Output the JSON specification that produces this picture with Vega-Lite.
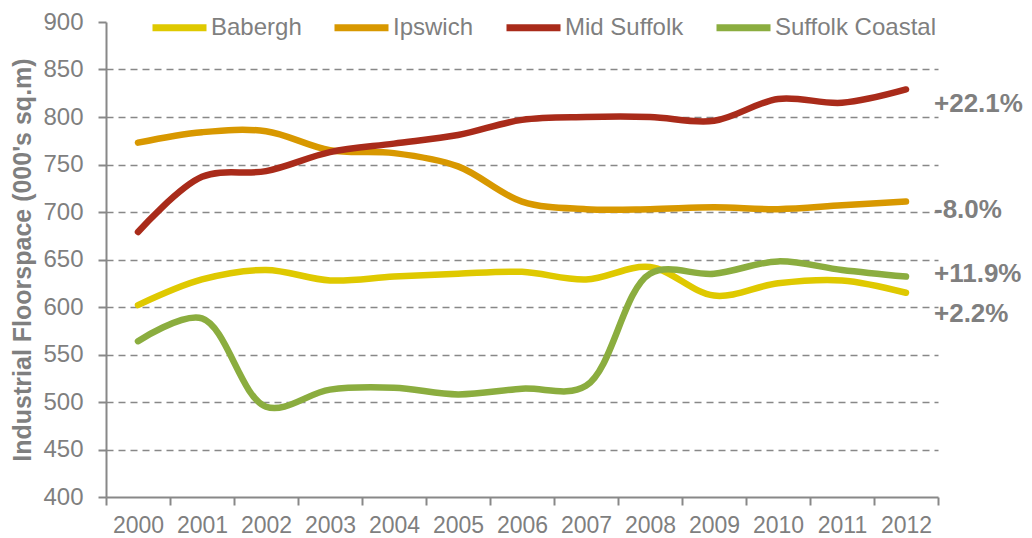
{
  "$schema": "https://vega.github.io/schema/vega-lite/v6.json",
  "width": 832,
  "height": 475,
  "autosize": {"type": "none"},
  "padding": {"left": 106, "top": 22, "right": 94, "bottom": 41},
  "background": "white",
  "config": {"view": {"stroke": null}, "font": "Liberation Sans"},
  "datasets": {
    "series": [
      {"series": "Babergh", "year": "2000", "value": 602},
      {"series": "Babergh", "year": "2001", "value": 629},
      {"series": "Babergh", "year": "2002", "value": 639},
      {"series": "Babergh", "year": "2003", "value": 628},
      {"series": "Babergh", "year": "2004", "value": 632},
      {"series": "Babergh", "year": "2005", "value": 635},
      {"series": "Babergh", "year": "2006", "value": 637},
      {"series": "Babergh", "year": "2007", "value": 629},
      {"series": "Babergh", "year": "2008", "value": 642},
      {"series": "Babergh", "year": "2009", "value": 612},
      {"series": "Babergh", "year": "2010", "value": 625},
      {"series": "Babergh", "year": "2011", "value": 628},
      {"series": "Babergh", "year": "2012", "value": 615},
      {"series": "Ipswich", "year": "2000", "value": 773},
      {"series": "Ipswich", "year": "2001", "value": 784},
      {"series": "Ipswich", "year": "2002", "value": 785},
      {"series": "Ipswich", "year": "2003", "value": 765},
      {"series": "Ipswich", "year": "2004", "value": 762},
      {"series": "Ipswich", "year": "2005", "value": 748},
      {"series": "Ipswich", "year": "2006", "value": 711},
      {"series": "Ipswich", "year": "2007", "value": 703},
      {"series": "Ipswich", "year": "2008", "value": 703},
      {"series": "Ipswich", "year": "2009", "value": 705},
      {"series": "Ipswich", "year": "2010", "value": 703},
      {"series": "Ipswich", "year": "2011", "value": 707},
      {"series": "Ipswich", "year": "2012", "value": 711},
      {"series": "Mid Suffolk", "year": "2000", "value": 679},
      {"series": "Mid Suffolk", "year": "2001", "value": 737},
      {"series": "Mid Suffolk", "year": "2002", "value": 743},
      {"series": "Mid Suffolk", "year": "2003", "value": 763},
      {"series": "Mid Suffolk", "year": "2004", "value": 772},
      {"series": "Mid Suffolk", "year": "2005", "value": 781},
      {"series": "Mid Suffolk", "year": "2006", "value": 797},
      {"series": "Mid Suffolk", "year": "2007", "value": 800},
      {"series": "Mid Suffolk", "year": "2008", "value": 800},
      {"series": "Mid Suffolk", "year": "2009", "value": 796},
      {"series": "Mid Suffolk", "year": "2010", "value": 819},
      {"series": "Mid Suffolk", "year": "2011", "value": 815},
      {"series": "Mid Suffolk", "year": "2012", "value": 829},
      {"series": "Suffolk Coastal", "year": "2000", "value": 564},
      {"series": "Suffolk Coastal", "year": "2001", "value": 588},
      {"series": "Suffolk Coastal", "year": "2002", "value": 495},
      {"series": "Suffolk Coastal", "year": "2003", "value": 513},
      {"series": "Suffolk Coastal", "year": "2004", "value": 515},
      {"series": "Suffolk Coastal", "year": "2005", "value": 508},
      {"series": "Suffolk Coastal", "year": "2006", "value": 514},
      {"series": "Suffolk Coastal", "year": "2007", "value": 517},
      {"series": "Suffolk Coastal", "year": "2008", "value": 635},
      {"series": "Suffolk Coastal", "year": "2009", "value": 635},
      {"series": "Suffolk Coastal", "year": "2010", "value": 648},
      {"series": "Suffolk Coastal", "year": "2011", "value": 639},
      {"series": "Suffolk Coastal", "year": "2012", "value": 632}
    ],
    "labels": [
      {"series": "Mid Suffolk", "year": "2012", "value": 814, "label": "+22.1%"},
      {"series": "Ipswich", "year": "2012", "value": 702, "label": "-8.0%"},
      {"series": "Suffolk Coastal", "year": "2012", "value": 635, "label": "+11.9%"},
      {"series": "Babergh", "year": "2012", "value": 593, "label": "+2.2%"}
    ]
  },
  "layer": [
    {
      "data": {"name": "series"},
      "mark": {"type": "line", "interpolate": "catmull-rom", "strokeWidth": 6.5, "strokeCap": "round"},
      "encoding": {
        "x": {
          "field": "year", "type": "ordinal", "bandPosition": 0.5,
          "scale": {"type": "band", "paddingInner": 0, "paddingOuter": 0},
          "axis": {
            "title": null, "labelAngle": 0, "labelFontSize": 23, "labelColor": "#7f7f7f",
            "labelPadding": 9, "tickSize": 8, "tickColor": "#888888", "tickWidth": 2,
            "domainColor": "#888888", "domainWidth": 2, "tickBand": "extent", "grid": false
          }
        },
        "y": {
          "field": "value", "type": "quantitative",
          "scale": {"domain": [400, 900], "nice": false, "zero": false},
          "axis": {
            "title": "Industrial Floorspace (000's sq.m)", "titleFontSize": 25, "titleFontWeight": "bold",
            "titleColor": "#7f7f7f", "titlePadding": 7,
            "values": [400, 450, 500, 550, 600, 650, 700, 750, 800, 850, 900],
            "labelFontSize": 24, "labelColor": "#7f7f7f", "labelPadding": 15,
            "tickSize": 8, "tickColor": "#888888", "tickWidth": 2,
            "domainColor": "#888888", "domainWidth": 2,
            "grid": true, "gridDash": [7, 5], "gridColor": "#888888", "gridWidth": 1.5,
            "gridOpacity": {"condition": {"test": "datum.value >= 900 || datum.value <= 400", "value": 0}, "value": 1}
          }
        },
        "color": {
          "field": "series", "type": "nominal",
          "scale": {
            "domain": ["Babergh", "Ipswich", "Mid Suffolk", "Suffolk Coastal"],
            "range": ["#dfc900", "#d89800", "#a92b1a", "#8bad3f"]
          },
          "legend": {
            "title": null, "orient": "none", "direction": "horizontal",
            "legendX": 43, "legendY": -25,
            "symbolType": "stroke", "symbolSize": 2916, "symbolStrokeWidth": 7,
            "labelFontSize": 24, "labelColor": "#7f7f7f", "labelOffset": 1,
            "columnPadding": 18, "labelLimit": 300
          }
        }
      }
    },
    {
      "data": {"name": "labels"},
      "mark": {"type": "text", "align": "left", "baseline": "middle", "dx": 28, "fontSize": 26, "fontWeight": "bold", "color": "#7f7f7f"},
      "encoding": {
        "x": {"field": "year", "type": "ordinal", "bandPosition": 0.5},
        "y": {"field": "value", "type": "quantitative"},
        "text": {"field": "label"}
      }
    }
  ]
}
